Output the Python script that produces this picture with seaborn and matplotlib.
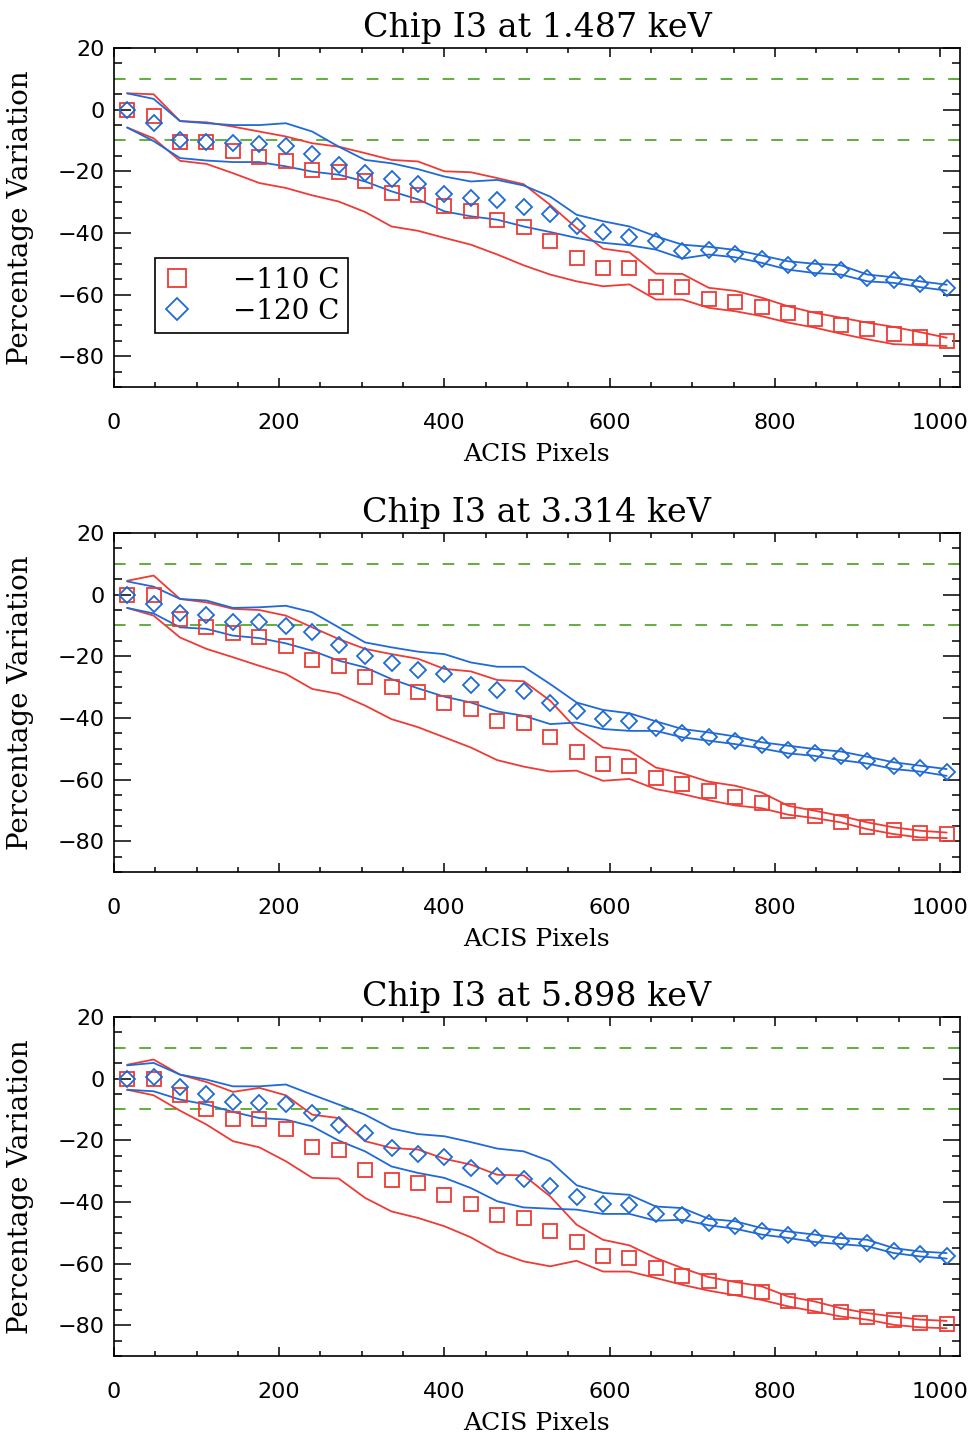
import matplotlib
matplotlib.use("Agg")
import matplotlib.pyplot as plt
from matplotlib.ticker import MultipleLocator
import seaborn as sns

## data

pixels = [16, 48, 80, 112, 144, 176, 208, 240, 272, 304, 336, 368, 400, 432, 464, 496,
          528, 560, 592, 624, 656, 688, 720, 752, 784, 816, 848, 880, 912, 944, 976, 1008]

titles = ["Chip I3 at 1.487 keV", "Chip I3 at 3.314 keV", "Chip I3 at 5.898 keV"]
labels = ["\u2212110 C", "\u2212120 C"]

# 1.487 keV
p1_sq = [0, -2, -10.4, -10.4, -13.4, -15.4, -16.6, -19.5, -20.3, -23, -27, -27.8, -31.2, -32.8, -35.7, -38.1,
         -42.7, -48.1, -51.4, -51.4, -57.5, -57.5, -61.5, -62.4, -64, -65.9, -68, -70, -71.3, -72.7, -73.8, -75]
p1_di = [0, -4.2, -9.8, -10.6, -10.9, -11, -11.7, -14.5, -18.1, -20.6, -22.4, -24.2, -27.4, -28.7, -29.2, -31.7,
         -33.9, -37.7, -39.8, -41.3, -42.7, -46, -45.6, -46.7, -48.3, -50.5, -51.4, -52, -54.6, -55.3, -56.7, -57.8]
p1_red_hi = [5.3, 5, -3.7, -4.1, -5.5, -7.1, -8.7, -10.9, -12, -14.1, -16.3, -16.8, -20, -20.3, -22.2, -24.2,
             -30.9, -38.4, -45.1, -46.3, -53.2, -53.3, -57.8, -58.8, -61, -63.8, -65.9, -67.5, -69.1, -70.5, -72.2, -74]
p1_red_lo = [-5.8, -9.3, -16.6, -17.6, -20.6, -23.8, -25.4, -27.8, -29.8, -33.2, -37.9, -39.3, -41.6, -43.8, -47, -50.5,
             -53.5, -55.7, -57.3, -56.7, -61.6, -61.6, -64.3, -65.4, -67, -69.1, -70.7, -72.7, -74.5, -76.1, -76.4, -76.7]
p1_blue_hi = [5.3, 3.5, -3.7, -4.4, -5, -5, -4.4, -7.1, -12, -16.3, -17.4, -19.3, -21.7, -23.3, -22.8, -24.6,
              -28.2, -34.1, -36.2, -37.9, -41.1, -43.8, -44.5, -45.5, -47.3, -49.2, -50, -50.5, -53.5, -54.4, -55.7, -56.8]
p1_blue_lo = [-5.8, -10.2, -15.7, -16.5, -17, -17, -18.4, -20.1, -21.1, -23.3, -26.5, -29.1, -33, -34.6, -35.7, -37.9,
              -39.7, -41.6, -43.2, -44, -45.4, -48.3, -47, -47.9, -49.7, -51.9, -53, -53.5, -55.7, -56.2, -57.6, -58.7]

# 3.314 keV
p2_sq = [0, 0, -7.9, -10.4, -12.6, -13.6, -16.8, -21.2, -23.1, -26.6, -30.1, -31.5, -35.3, -37.1, -40.9, -41.8,
         -46.3, -50.9, -55, -55.5, -59.6, -61.5, -63.7, -65.5, -67.6, -70.1, -71.8, -73.7, -75.3, -76.4, -77.4, -77.7]
p2_di = [0, -3, -6.1, -6.6, -9, -9, -10.1, -12.2, -16.3, -19.8, -22.3, -24.5, -25.7, -29.2, -30.9, -31.4,
         -35.3, -37.9, -40.4, -40.9, -43.3, -44.8, -46.1, -47.4, -48.8, -50.4, -51.4, -52.3, -53.9, -55.7, -56.4, -57.7]
p2_red_hi = [4.5, 6.2, -1.4, -2.5, -4.6, -5, -6.8, -10.6, -14.4, -17.6, -19.3, -20.8, -24.1, -24.9, -27.7, -28.1,
             -34.4, -43.6, -49.6, -50.6, -56.1, -58, -60.7, -62, -64.2, -68.5, -70.1, -71.8, -73.9, -75.5, -76.6, -77.2]
p2_red_lo = [-4.3, -6.8, -13.9, -17.6, -20.3, -23.1, -25.7, -30.6, -32.2, -36, -40.4, -43, -46.3, -49.6, -53.7, -55.8,
             -57.4, -57.1, -60.4, -59.8, -63.1, -64.7, -66.7, -68.4, -69.3, -71.4, -72.5, -73.9, -76.1, -77.7, -78.8, -79]
p2_blue_hi = [4.3, 2.6, -1.4, -1.9, -4.3, -4.1, -3.6, -5.7, -10.6, -15.5, -17.1, -18.5, -19.3, -22, -23.4, -23.4,
              -29, -35, -37.4, -38.5, -41.1, -43.6, -44.7, -46, -47.9, -49, -50.1, -50.9, -52.6, -54.4, -55.5, -56.6]
p2_blue_lo = [-4.3, -6.1, -10.6, -11.1, -13.3, -14.1, -15.8, -18.2, -21.4, -23.6, -27.4, -30.4, -33.1, -35, -37.9, -39.3,
              -42, -41.5, -43.6, -44.2, -44.2, -46.3, -47.4, -48.5, -49.9, -51.5, -52.3, -53.7, -54.8, -56.6, -57.4, -58.8]

# 5.898 keV
p3_sq = [0, 0, -5.2, -9.7, -13, -13, -16.2, -22.3, -23.1, -29.5, -32.8, -33.9, -37.7, -40.7, -44.2, -45.2,
         -49.6, -53, -57.4, -58.2, -61.5, -63.9, -65.8, -68, -69.3, -72.1, -73.9, -75.8, -77.2, -78.2, -79.3, -79.6]
p3_di = [0, 0.5, -2.8, -5, -7.6, -7.9, -8.1, -11.1, -14.9, -17.6, -22.5, -24.4, -25.5, -29, -31.7, -32.5,
         -34.7, -38.5, -40.6, -40.9, -43.9, -44.2, -46.9, -47.9, -49.4, -50.6, -51.7, -52.6, -53.4, -55.8, -56.9, -57.7]
p3_red_hi = [4.5, 6.2, 1.3, -1.1, -4.3, -3, -5.4, -11.7, -12.8, -20.3, -22.5, -23, -26, -27.9, -31.2, -31.4,
             -38.2, -47.4, -52.3, -54.1, -58.2, -61.5, -64.4, -66, -67.4, -70.7, -72.3, -74.5, -76.1, -77.2, -78.2, -78.6]
p3_red_lo = [-3.6, -5.4, -10.4, -14.9, -20.3, -22.3, -26.8, -32.2, -32.4, -38.7, -43.1, -45.2, -47.9, -51.5, -56.3, -59.3,
             -60.9, -59.1, -62.6, -62.6, -64.7, -66.9, -68.8, -70.3, -71.8, -73.9, -75.5, -77.2, -78.2, -79.9, -80.7, -81]
p3_blue_hi = [4.3, 5.1, 1.3, -0.3, -2.5, -2.5, -1.9, -5.2, -8.4, -11.7, -16.2, -18, -18.7, -20.6, -22.7, -23.6,
              -26.8, -34.6, -37.1, -37.7, -41.5, -42, -45.5, -46.3, -48.5, -49.6, -50.6, -51.7, -52.3, -55, -56.1, -56.6]
p3_blue_lo = [-3.6, -4.1, -6.8, -8.4, -10.8, -12.8, -13.3, -15.5, -20.1, -23.6, -28.5, -30.6, -32.2, -35.5, -39.8, -41.8,
              -42.2, -42.5, -43.9, -43.9, -46.1, -45.8, -47.6, -48.7, -50.6, -51.7, -53, -53.7, -54.4, -56.6, -57.7, -58.4]

limits = [10, -10]

RED = "#ee3b35"
BLUE = "#1f6ad6"
GREEN = "#62ae3c"

sns.set_style("ticks")
plt.rcParams["font.family"] = ["DejaVu Serif", "DejaVu Sans"]
plt.rcParams["axes.linewidth"] = 1.2
for key in ("text.color", "axes.labelcolor", "xtick.color", "ytick.color", "axes.edgecolor"):
    plt.rcParams[key] = "black"

fig = plt.figure(figsize=(9.79, 14.34), dpi=100)
bottoms = [0.7301, 0.3919, 0.0544]

panels = [
    (p1_sq, p1_di, p1_red_hi, p1_red_lo, p1_blue_hi, p1_blue_lo),
    (p2_sq, p2_di, p2_red_hi, p2_red_lo, p2_blue_hi, p2_blue_lo),
    (p3_sq, p3_di, p3_red_hi, p3_red_lo, p3_blue_hi, p3_blue_lo),
]

for k, (sq, di, red_hi, red_lo, blue_hi, blue_lo) in enumerate(panels):
    ax = fig.add_axes([0.1164, bottoms[k], 0.8641, 0.2364])

    for lim in limits:
        ax.axhline(lim, color=GREEN, lw=1.4, ls=(0, (6, 7)))

    for band, col in ((red_hi, RED), (red_lo, RED), (blue_hi, BLUE), (blue_lo, BLUE)):
        sns.lineplot(x=pixels, y=band, color=col, lw=1.3, errorbar=None, ax=ax)

    sns.lineplot(x=pixels, y=sq, color=RED, ls="none", marker="s", ms=10, mfc="none",
                 mec=RED, mew=1.3, errorbar=None, label=labels[0], ax=ax)
    sns.lineplot(x=pixels, y=di, color=BLUE, ls="none", marker="D", ms=8.5, mfc="none",
                 mec=BLUE, mew=1.3, errorbar=None, label=labels[1], ax=ax)

    ax.set_xlim(0, 1024)
    ax.set_ylim(-90, 20)
    ax.xaxis.set_major_locator(MultipleLocator(200))
    ax.xaxis.set_minor_locator(MultipleLocator(50))
    ax.yaxis.set_major_locator(MultipleLocator(20))
    ax.yaxis.set_minor_locator(MultipleLocator(5))
    ax.tick_params(which="both", direction="in", top=True, right=True, width=1.1,
                   colors="black", labelsize=16, labelfontfamily="DejaVu Sans")
    ax.tick_params(axis="x", which="major", length=6.5, pad=19)
    ax.tick_params(axis="x", which="minor", length=3.3)
    ax.tick_params(axis="y", which="major", length=12, pad=6.5)
    ax.tick_params(axis="y", which="minor", length=6)
    for sp in ax.spines.values():
        sp.set_color("black")
        sp.set_linewidth(1.2)

    ax.set_title(titles[k], fontsize=24, pad=8, color="black")
    ax.set_xlabel("ACIS Pixels", fontsize=18, va="top", color="black")
    ax.xaxis.set_label_coords(0.5, -0.165)
    ax.set_ylabel("Percentage Variation", fontsize=20, color="black")
    ax.yaxis.set_label_coords(-0.0946, 0.5)

    if k == 0:
        handles, labs = ax.get_legend_handles_labels()
        leg = ax.legend(handles, labs, loc="lower left", bbox_to_anchor=(0.0485, 0.159),
                        borderaxespad=0, fontsize=20, handlelength=1.0, handletextpad=1.5,
                        borderpad=0.3, labelspacing=0.15, markerscale=1.3,
                        fancybox=False, framealpha=1, edgecolor="black")
        leg.get_frame().set_linewidth(1.2)
        for txt in leg.get_texts():
            txt.set_color("black")
    else:
        leg = ax.get_legend()
        if leg is not None:
            leg.remove()

fig.savefig("out.png", dpi=100, facecolor="white")
